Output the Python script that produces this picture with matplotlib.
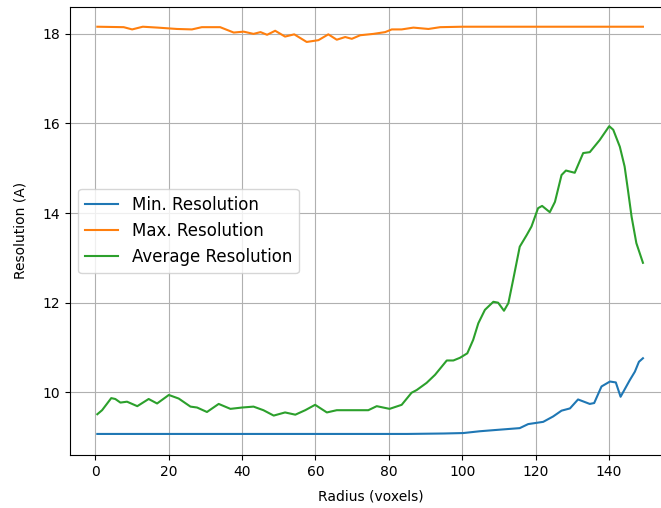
import matplotlib
matplotlib.use("Agg")
import matplotlib.pyplot as plt

# values
min_x = [0.5, 20, 40, 60, 80, 85, 95, 100.3, 104.8, 109.4, 115.7, 118, 122.1, 124.8,
         127.1, 129.4, 131.6, 134.8, 136, 138, 140.3, 141.9, 143.2, 145.7, 147.1,
         148.2, 149.3]
min_res = [9.07, 9.07, 9.07, 9.07, 9.07, 9.07, 9.08, 9.09, 9.13, 9.16, 9.2, 9.29,
           9.34, 9.46, 9.59, 9.64, 9.84, 9.74, 9.76, 10.13, 10.24, 10.22, 9.9,
           10.27, 10.46, 10.68, 10.76]

max_x = [0.5, 7.7, 10, 12.9, 17, 22.2, 26.3, 29, 34, 37.7, 40.4, 43.1, 45, 46.8,
         49, 51.7, 54.2, 57.6, 60.8, 63.5, 65.8, 68.1, 69.9, 72.2, 75.8, 79, 80.8,
         83.5, 86.7, 90.8, 94, 100, 149.3]
max_res = [18.16, 18.15, 18.1, 18.16, 18.14, 18.11, 18.1, 18.15, 18.15, 18.03, 18.05,
           18.0, 18.04, 17.98, 18.07, 17.94, 17.99, 17.82, 17.86, 17.99, 17.87, 17.93,
           17.89, 17.97, 18.0, 18.04, 18.1, 18.1, 18.14, 18.11, 18.15, 18.16, 18.16]

avg_x = [0.5, 1.8, 4.3, 5.4, 6.8, 8.6, 11.4, 14.5, 16.8, 20, 22.7, 25.9, 27.7, 30.4,
         33.6, 36.8, 40, 43.1, 45.8, 48.6, 51.7, 54.5, 57.2, 59.9, 63.1, 65.8, 69.9,
         74.4, 76.7, 80.2, 83.5, 86.2, 87.6, 90.3, 92.6, 95.8, 97.6, 99.4, 101.4,
         103, 104.4, 106.2, 108.5, 109.8, 111.4, 112.6, 113.9, 115.7, 117.6, 118.9,
         120.7, 121.8, 123.9, 125.3, 127.1, 128.3, 130.7, 133, 134.8, 137.5, 140.1,
         141.2, 143, 144.3, 145.2, 146.2, 147.5, 149.3]
avg_res = [9.51, 9.6, 9.87, 9.85, 9.77, 9.79, 9.69, 9.85, 9.75, 9.94, 9.86, 9.68,
           9.66, 9.56, 9.74, 9.63, 9.66, 9.68, 9.6, 9.48, 9.55, 9.5, 9.6, 9.72, 9.55,
           9.6, 9.6, 9.6, 9.69, 9.63, 9.72, 9.99, 10.05, 10.21, 10.39, 10.71, 10.71,
           10.77, 10.87, 11.17, 11.54, 11.84, 12.02, 12.0, 11.82, 11.99, 12.51, 13.25,
           13.51, 13.7, 14.11, 14.16, 14.02, 14.25, 14.85, 14.95, 14.9, 15.34, 15.36,
           15.63, 15.94, 15.86, 15.48, 15.04, 14.52, 13.92, 13.33, 12.89]

fig = plt.figure(figsize=(6.61, 5.08), dpi=100)
# the original axes runs a little past the right edge of the picture
ax = fig.add_axes([70 / 661, 53 / 508, 601 / 661, 448.3 / 508])

ax.plot(min_x, min_res, label="Min. Resolution")
ax.plot(max_x, max_res, label="Max. Resolution")
ax.plot(avg_x, avg_res, label="Average Resolution")

ax.set_xlim(-6.95, 156.95)
ax.set_ylim(8.60, 18.607)
ax.set_xticks([0, 20, 40, 60, 80, 100, 120, 140])
ax.set_yticks([10, 12, 14, 16, 18])
ax.set_xlabel("Radius (voxels)", labelpad=8)
ax.set_ylabel("Resolution (A)", labelpad=11)
ax.grid(True)
ax.legend(loc="center left", fontsize=12)

plt.savefig("out.png", dpi=100)
